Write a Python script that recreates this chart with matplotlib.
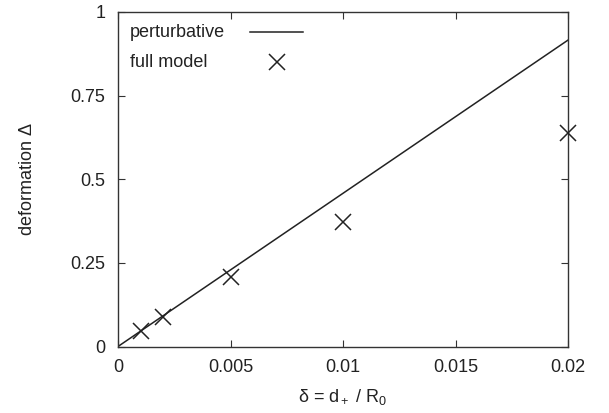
import matplotlib.pyplot as plt

plt.rcParams['font.family'] = ['Liberation Sans', 'DejaVu Sans']
plt.rcParams['mathtext.fontset'] = 'custom'
plt.rcParams['mathtext.rm'] = 'Liberation Sans'
plt.rcParams['mathtext.it'] = 'Liberation Sans'

# perturbative (linear) prediction
pert_delta = [0.0, 0.02]
pert_def = [0.0, 0.916]

# full model results
full_delta = [0.001, 0.002, 0.005, 0.01, 0.02]
full_def = [0.046, 0.089, 0.209, 0.373, 0.637]

xticks = [0, 0.005, 0.01, 0.015, 0.02]
xticklabels = ['0', '0.005', '0.01', '0.015', '0.02']
yticks = [0, 0.25, 0.5, 0.75, 1]
yticklabels = ['0', '0.25', '0.5', '0.75', '1']

ink = '#222222'

fig = plt.figure(figsize=(6.09, 4.13), dpi=100)
ax = fig.add_axes([118/609, 1 - 346.5/413, 450/609, 334.5/413])

ax.plot(pert_delta, pert_def, '-', color=ink, lw=1.1)
ax.plot(full_delta, full_def, 'x', color=ink, ms=11.5, mew=1.1,
        linestyle='none', clip_on=False, zorder=5)

ax.set_xlim(0, 0.02)
ax.set_ylim(0, 1)
ax.set_xticks(xticks)
ax.set_xticklabels(xticklabels)
ax.set_yticks(yticks)
ax.set_yticklabels(yticklabels)
ax.tick_params(direction='in', length=5, width=0.8, color='#333333',
               top=True, right=True, labelsize=13, pad=9, labelcolor=ink)
for s in ax.spines.values():
    s.set_color('#333333')
    s.set_linewidth(1.0)

ax.set_xlabel(r'$\mathregular{\delta}$ = d$_+$ / R$_0$', fontsize=13, color=ink, labelpad=8)
ax.set_ylabel(r'deformation $\mathregular{\Delta}$', fontsize=13, color=ink, labelpad=25)

# gnuplot-style key: left-aligned text, sample on the right
ax.text(0.027, 0.940, 'perturbative', transform=ax.transAxes, fontsize=13,
        color=ink, va='center', ha='left')
ax.plot([0.293, 0.411], [0.940, 0.940], '-', color=ink, lw=1.1,
        transform=ax.transAxes)
ax.text(0.027, 0.850, 'full model', transform=ax.transAxes, fontsize=13,
        color=ink, va='center', ha='left')
ax.plot([0.353], [0.850], 'x', color=ink, ms=11.5, mew=1.1,
        transform=ax.transAxes)

fig.savefig('out.png', dpi=100)
